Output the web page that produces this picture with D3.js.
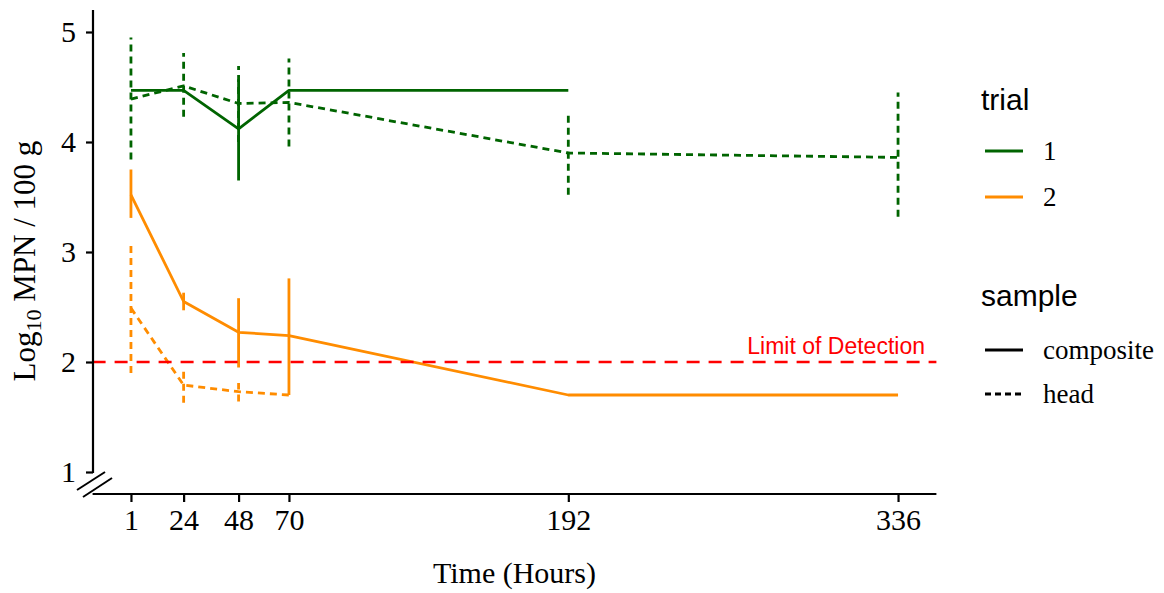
<!DOCTYPE html>
<html>
<head>
<meta charset="utf-8">
<script src="https://cdn.jsdelivr.net/npm/d3@7"></script>
<style>
  body { margin: 0; background: #fff; }
</style>
</head>
<body>
<div id="chart"></div>
<script>
// sampling times (hours)
var hours = [1, 24, 48, 70, 192, 336];
var xTicks = [1, 24, 48, 70, 192, 336];
var yTicks = [1, 2, 3, 4, 5];

// trial 1 composite
var t1CompMean = [4.47, 4.47, 4.12, 4.47, 4.47, null];
var t1CompLo   = [null, null, 3.65, null, null, null];
var t1CompHi   = [null, null, 4.57, null, null, null];
// trial 1 head
var t1HeadMean = [4.39, 4.51, 4.35, 4.36, 3.90, 3.86];
var t1HeadLo   = [3.84, 4.23, 4.00, 3.96, 3.52, 3.32];
var t1HeadHi   = [4.95, 4.81, 4.69, 4.76, 4.27, 4.45];
// trial 2 composite
var t2CompMean = [3.52, 2.55, 2.27, 2.24, 1.70, 1.70];
var t2CompLo   = [3.31, 2.47, 1.95, 1.70, null, null];
var t2CompHi   = [3.75, 2.63, 2.58, 2.76, null, null];
// trial 2 head
var t2HeadMean = [2.49, 1.79, 1.73, 1.70, null, null];
var t2HeadLo   = [1.90, 1.63, 1.64, null, null, null];
var t2HeadHi   = [3.08, 1.93, 1.81, null, null, null];

var limitOfDetection = 2;

var width = 1164, height = 593;
var trialColor = { "1": "#006400", "2": "#FF8C00" };
var headDash = "7,5";
var sans = "'Liberation Sans', Arial, sans-serif";
var serif = "'Liberation Serif', 'Times New Roman', serif";

var svg = d3.select("#chart")
  .append("svg")
  .attr("width", width)
  .attr("height", height);

var x = d3.scaleLinear()
  .domain([-15.75, 352.75])
  .range([92.6, 936.4]);

var y = d3.scaleLinear()
  .domain([0.8, 5.2])
  .range([494, 10]);

var series = [
  { trial: "1", sample: "composite", mean: t1CompMean, lo: t1CompLo, hi: t1CompHi },
  { trial: "1", sample: "head", mean: t1HeadMean, lo: t1HeadLo, hi: t1HeadHi },
  { trial: "2", sample: "composite", mean: t2CompMean, lo: t2CompLo, hi: t2CompHi },
  { trial: "2", sample: "head", mean: t2HeadMean, lo: t2HeadLo, hi: t2HeadHi }
];

var line = d3.line()
  .x(function(d) { return x(d.t); })
  .y(function(d) { return y(d.v); });

series.forEach(function(s) {
  var pts = hours.map(function(t, i) { return { t: t, v: s.mean[i], lo: s.lo[i], hi: s.hi[i] }; });
  var g = svg.append("g");

  // error bars (vertical only)
  g.selectAll("line.err")
    .data(pts.filter(function(d) { return d.lo != null; }))
    .enter().append("line")
    .attr("class", "err")
    .attr("x1", function(d) { return x(d.t); })
    .attr("x2", function(d) { return x(d.t); })
    .attr("y1", function(d) { return y(d.lo); })
    .attr("y2", function(d) { return y(d.hi); })
    .attr("stroke", trialColor[s.trial])
    .attr("stroke-width", 2.8)
    .attr("stroke-dasharray", s.sample == "head" ? headDash : null);

  g.append("path")
    .datum(pts.filter(function(d) { return d.v != null; }))
    .attr("d", line)
    .attr("fill", "none")
    .attr("stroke", trialColor[s.trial])
    .attr("stroke-width", 2.8)
    .attr("stroke-linejoin", "round")
    .attr("stroke-dasharray", s.sample == "head" ? headDash : null);
});

// limit of detection
svg.append("line")
  .attr("x1", x(-15.75))
  .attr("x2", x(352.75))
  .attr("y1", y(limitOfDetection))
  .attr("y2", y(limitOfDetection))
  .attr("stroke", "#FF0000")
  .attr("stroke-width", 2.4)
  .attr("stroke-dasharray", "13,9");

svg.append("text")
  .attr("x", 925)
  .attr("y", y(limitOfDetection) - 8)
  .attr("text-anchor", "end")
  .attr("fill", "#FF0000")
  .style("font-family", sans)
  .style("font-size", "23px")
  .text("Limit of Detection");

// axes
var xAxis = svg.append("g")
  .attr("transform", "translate(0," + 494 + ")")
  .call(d3.axisBottom(x).tickValues(xTicks).tickSize(8).tickPadding(7).tickSizeOuter(0));

var yAxis = svg.append("g")
  .attr("transform", "translate(" + 93 + ",0)")
  .call(d3.axisLeft(y).tickValues(yTicks).tickFormat(d3.format("d"))
    .tickSize(7).tickPadding(10).tickSizeOuter(0));

[xAxis, yAxis].forEach(function(a) {
  a.select(".domain").attr("stroke", "#000").attr("stroke-width", 2.2);
  a.selectAll(".tick line").attr("stroke", "#000").attr("stroke-width", 2.2);
  a.selectAll(".tick text")
    .attr("fill", "#000")
    .style("font-family", serif)
    .style("font-size", "30px");
});

// trim the axis lines to make room for the break marks
xAxis.select(".domain").attr("d", "M" + x(-15.75) + ",0H" + x(352.75));
yAxis.select(".domain").attr("d", "M0," + 10 + "V" + 473);

// axis break
svg.append("line").attr("x1", 77).attr("y1", 490).attr("x2", 105).attr("y2", 472)
  .attr("stroke", "#000").attr("stroke-width", 2);
svg.append("line").attr("x1", 83).attr("y1", 497).attr("x2", 112).attr("y2", 478)
  .attr("stroke", "#000").attr("stroke-width", 2);

// axis titles
svg.append("text")
  .attr("x", x(168.5))
  .attr("y", 583)
  .attr("text-anchor", "middle")
  .style("font-family", serif)
  .style("font-size", "30px")
  .text("Time (Hours)");

var yLab = svg.append("text")
  .attr("transform", "translate(35," + 261 + ") rotate(-90)")
  .attr("text-anchor", "middle")
  .style("font-family", serif)
  .style("font-size", "31px");
yLab.append("tspan").text("Log");
yLab.append("tspan").attr("dy", 6).style("font-size", "22px").text("10");
yLab.append("tspan").attr("dy", -6).text(" MPN / 100 g");

// legends
var legend = svg.append("g");

legend.append("text").attr("x", 981).attr("y", 110)
  .style("font-family", sans).style("font-size", "30px").text("trial");

var trials = ["1", "2"];
trials.forEach(function(t, i) {
  var ly = 151 + i * 46;
  legend.append("line").attr("x1", 985).attr("x2", 1023).attr("y1", ly).attr("y2", ly)
    .attr("stroke", trialColor[t]).attr("stroke-width", 2.8);
  legend.append("text").attr("x", 1043).attr("y", ly + 9)
    .style("font-family", serif).style("font-size", "27px").text(t);
});

legend.append("text").attr("x", 981).attr("y", 306)
  .style("font-family", sans).style("font-size", "30px").text("sample");

var samples = ["composite", "head"];
samples.forEach(function(s, i) {
  var ly = 350 + i * 44;
  legend.append("line").attr("x1", 985).attr("x2", 1023).attr("y1", ly).attr("y2", ly)
    .attr("stroke", "#000").attr("stroke-width", 2.8)
    .attr("stroke-dasharray", s == "head" ? "6,4" : null);
  legend.append("text").attr("x", 1043).attr("y", ly + 9)
    .style("font-family", serif).style("font-size", "27px").text(s);
});
</script>
</body>
</html>
